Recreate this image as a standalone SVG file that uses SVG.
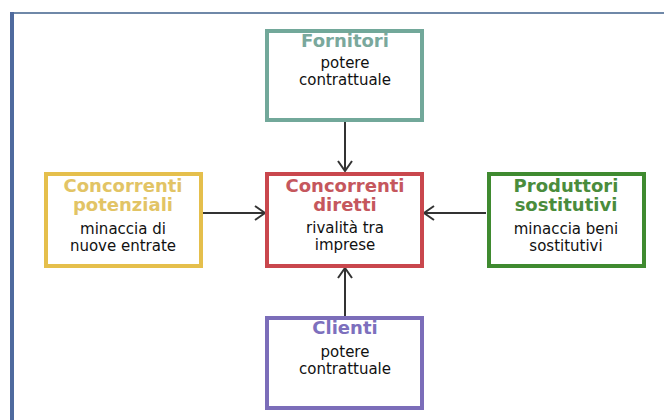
<svg xmlns="http://www.w3.org/2000/svg" width="664" height="420" viewBox="0 0 664 420">
<style>
.box{fill:#ffffff;stroke-width:4}
.t{font-family:"DejaVu Sans","Liberation Sans",sans-serif;font-weight:bold;font-size:18px;text-anchor:middle}
.s{font-family:"DejaVu Sans","Liberation Sans",sans-serif;font-size:15px;fill:#111111;text-anchor:middle}
.c{stroke:#333333;stroke-width:2;fill:none;marker-end:url(#ah)}
</style>
<defs>
<marker id="ah" viewBox="0 0 12 16" refX="11" refY="8" markerWidth="12" markerHeight="16" markerUnits="userSpaceOnUse" orient="auto">
<path d="M1,1 L11,8 L1,15" fill="none" stroke="#333333" stroke-width="2"/>
</marker>
</defs>
<rect width="664" height="420" fill="#ffffff"/>
<g id="frame">
<line x1="10" y1="13" x2="664" y2="13" stroke="#6f88a8" stroke-width="2"/>
<line x1="12" y1="12" x2="12" y2="420" stroke="#4f6a9e" stroke-width="4"/>
</g>
<g id="connectors">
<line class="c" x1="345" y1="121" x2="345" y2="171"/>
<line class="c" x1="203" y1="213" x2="265" y2="213"/>
<line class="c" x1="486" y1="213" x2="424" y2="213"/>
<line class="c" x1="345" y1="316" x2="345" y2="268"/>
</g>
<g id="fornitori">
<rect class="box" x="267" y="31" width="155" height="89" stroke="#72a89a"/>
<text class="t" x="345" y="47" fill="#7aa89c">Fornitori</text>
<text class="s" x="345" y="68">potere</text>
<text class="s" x="345" y="85">contrattuale</text>
</g>
<g id="diretti">
<rect class="box" x="267" y="174" width="155" height="92" stroke="#c9474d"/>
<text class="t" x="345" y="192" fill="#c5575d">Concorrenti</text>
<text class="t" x="345" y="211" fill="#c5575d">diretti</text>
<text class="s" x="345" y="233">rivalità tra</text>
<text class="s" x="345" y="250">imprese</text>
</g>
<g id="potenziali">
<rect class="box" x="46" y="174" width="155" height="92" stroke="#e5bf4c"/>
<text class="t" x="123" y="192" fill="#e2c465">Concorrenti</text>
<text class="t" x="123" y="211" fill="#e2c465">potenziali</text>
<text class="s" x="123" y="234">minaccia di</text>
<text class="s" x="123" y="251">nuove entrate</text>
</g>
<g id="sostitutivi">
<rect class="box" x="489" y="174" width="155" height="92" stroke="#3f8a30"/>
<text class="t" x="566" y="192" fill="#4a8c3c">Produttori</text>
<text class="t" x="566" y="211" fill="#4a8c3c">sostitutivi</text>
<text class="s" x="566" y="234">minaccia beni</text>
<text class="s" x="566" y="251">sostitutivi</text>
</g>
<g id="clienti">
<rect class="box" x="267" y="318" width="155" height="90" stroke="#7b6db9"/>
<text class="t" x="345" y="334" fill="#7d70bd">Clienti</text>
<text class="s" x="345" y="357">potere</text>
<text class="s" x="345" y="374">contrattuale</text>
</g>
</svg>
